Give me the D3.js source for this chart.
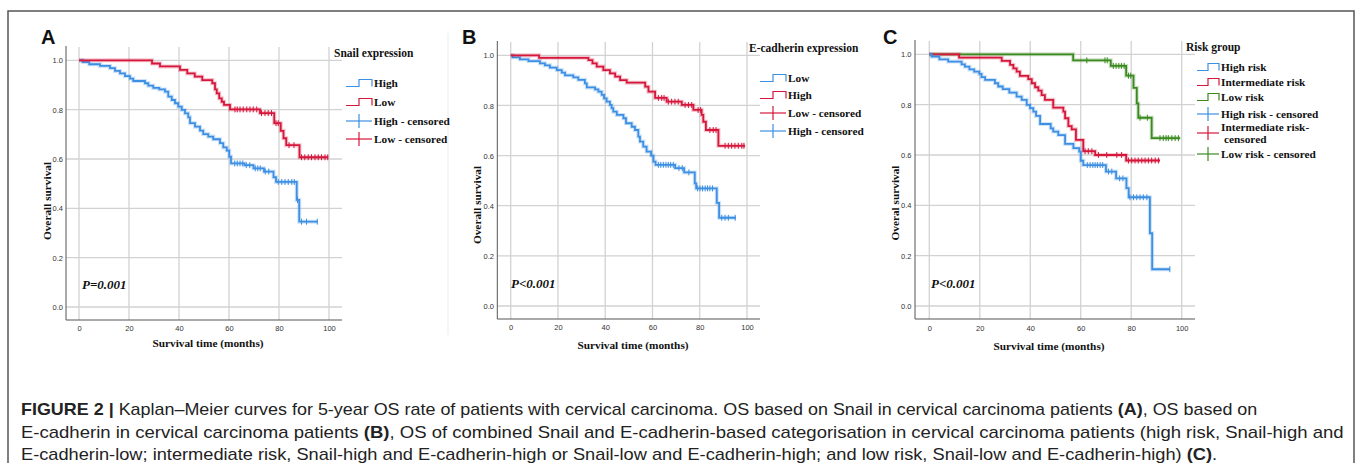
<!DOCTYPE html>
<html><head><meta charset="utf-8">
<script src="https://cdn.jsdelivr.net/npm/d3@7"></script>
<style>
html,body{margin:0;padding:0;background:#fff;}
svg{display:block;}
</style></head>
<body>
<svg id="chart" width="1358" height="463"></svg>
<script>
// ---------- DATA ----------
const xTicks = [0, 20, 40, 60, 80, 100];
const yTicks = [0, 0.2, 0.4, 0.6, 0.8, 1.0];

// Panel A : Snail expression
const aHighEvents = [[0,1],[1.5,0.993],[4.1,0.984],[8.4,0.977],[12.4,0.968],[14.4,0.957],[16.4,0.947],[18.4,0.936],[20.4,0.926],[21.7,0.916],[26.4,0.907],[27.7,0.897],[29.7,0.888],[32.1,0.882],[34.4,0.873],[35.7,0.853],[37.1,0.839],[38.4,0.826],[39.7,0.812],[41.1,0.799],[42.4,0.785],[43.7,0.769],[44.4,0.745],[46.4,0.731],[48.4,0.715],[49.7,0.701],[51.7,0.691],[53.7,0.680],[56.4,0.664],[57.7,0.647],[59.1,0.634],[60.1,0.609],[60.8,0.582],[66.2,0.575],[69.8,0.562],[74,0.549],[77.8,0.526],[78.8,0.507],[87.1,0.434],[88.1,0.346]];
const aHighEnd = 95.5;
const aHighCensor = [62.3,63.3,64.4,65.5,66.9,68.3,70.5,71.5,72.5,74.5,75.9,79.7,81.1,82.4,83.7,85.1,86.1,87.4,89,91,95.3];
const aLowEvents = [[0,1],[29.2,0.987],[32.4,0.975],[40.4,0.961],[43.3,0.947],[46.3,0.934],[49.3,0.92],[53.3,0.907],[54.4,0.882],[55.1,0.866],[56.1,0.846],[57.1,0.832],[58,0.819],[60.4,0.801],[72.4,0.786],[78.1,0.745],[80.7,0.714],[81.8,0.684],[82.9,0.656],[88.2,0.607]];
const aLowEnd = 99.7;
const aLowCensor = [62.4,63.3,64.4,65.7,67.1,68.4,69.7,71.1,73,74.4,75.7,77,78.8,79.7,84,86,89,90.3,91.7,93,94.4,95.7,97,98.4,99.5];

// Panel B : E-cadherin expression
const bLowEvents = [[0,1],[0.8,0.992],[3.9,0.984],[7.5,0.977],[12.4,0.968],[14.5,0.96],[16.6,0.951],[19.5,0.941],[21.6,0.931],[23,0.92],[26.5,0.912],[28.6,0.902],[31.4,0.888],[32.2,0.872],[35.7,0.864],[37.1,0.855],[38.5,0.842],[39.5,0.828],[40.6,0.815],[42,0.802],[42.7,0.789],[43.4,0.775],[44.9,0.762],[47.7,0.749],[48.8,0.729],[51.2,0.715],[52.6,0.702],[54,0.676],[54.7,0.656],[56.1,0.636],[57.5,0.616],[59.4,0.6],[60.4,0.576],[61.3,0.563],[69.6,0.55],[73.4,0.533],[77.9,0.489],[78.5,0.469],[87.2,0.411],[88.2,0.352]];
const bLowEnd = 95.3;
const bLowCensor = [62.5,63.5,64.6,65.7,66.7,67.7,68.8,71.2,72.6,75.4,79.1,80.1,81.2,82.3,83.3,84.3,85.4,89.3,90.7,92.1,95];
const bHighEvents = [[0,1],[12,0.99],[32.9,0.981],[34.6,0.968],[36.4,0.955],[39.2,0.941],[42,0.928],[44.2,0.915],[46.3,0.901],[49.1,0.891],[56.9,0.875],[58.3,0.855],[61.1,0.83],[66,0.815],[72.4,0.802],[77.3,0.782],[80.8,0.762],[81.5,0.735],[82.6,0.702],[87.9,0.639]];
const bHighEnd = 99.2;
const bHighCensor = [62.5,63.9,64.9,66.7,68.1,69.5,70.9,73.8,75.2,76.6,79.3,80.4,84.3,85.7,86.9,90.7,92.1,93.5,94.9,96.3,97.8,98.7];

// Panel C : Risk group
const cHighEvents = [[0,1],[0.9,0.991],[4,0.98],[7.5,0.971],[12.8,0.96],[14.1,0.951],[15.9,0.94],[17.8,0.931],[19.8,0.922],[20.7,0.909],[22.1,0.898],[26,0.885],[27.3,0.872],[29.1,0.862],[31.7,0.848],[34.6,0.832],[36.6,0.819],[38.6,0.799],[39.9,0.786],[41.2,0.772],[42.3,0.755],[43.9,0.723],[48.1,0.706],[49.1,0.693],[51.1,0.679],[53.8,0.644],[57.1,0.627],[59.4,0.613],[60,0.577],[61,0.56],[70,0.534],[74,0.507],[78.1,0.468],[79,0.432],[87.4,0.289],[88.3,0.146]];
const cHighEnd = 95.4;
const cHighCensor = [62.6,63.7,64.8,65.7,66.6,67.7,68.7,71,72.3,75.4,76.7,79.5,80.9,82.2,83.5,84.8,86.2,95.3];
const cIntEvents = [[0,1],[11.8,0.987],[28.7,0.974],[32,0.958],[33.3,0.944],[34.6,0.931],[35.9,0.914],[39.2,0.901],[40.6,0.885],[41.9,0.869],[43.2,0.856],[44.5,0.838],[45.8,0.819],[49.1,0.788],[53.1,0.772],[53.8,0.746],[55.1,0.715],[56.4,0.702],[58.1,0.66],[61,0.615],[65.7,0.6],[78,0.578]];
const cIntEnd = 91.4;
const cIntCensor = [61.7,63,64.4,67,70.3,74.3,76.2,78.9,80.2,81.5,82.8,84.2,85.5,86.8,88.1,89.5,90.8];
const cLowEvents = [[0,1],[57,0.976],[71.9,0.954],[78,0.915],[80.9,0.867],[82.2,0.805],[82.8,0.748],[88.1,0.667]];
const cLowEnd = 99.4;
const cLowCensor = [62.4,69.6,70.5,72.9,74,75.1,76.1,77.2,78.9,79.8,83.5,86.4,91.4,92.7,93.8,94.7,96.1,97.4,98.7];

const panelLetters = ["A", "B", "C"];
const legendTitles = ["Snail expression", "E-cadherin expression", "Risk group"];
const legendA = ["High", "Low", "High - censored", "Low - censored"];
const legendB = ["Low", "High", "Low - censored", "High - censored"];
const legendC = ["High risk", "Intermediate risk", "Low risk", "High risk - censored", "Intermediate risk-|censored", "Low risk - censored"];
const yTitles = ["Overall survival", "Overall survival", "Overal survival"];
const xTitle = "Survival time (months)";
const pTexts = ["P=0.001", "P<0.001", "P<0.001"];

const captionLines = [
  [["FIGURE 2 | ", true], ["Kaplan–Meier curves for 5-year OS rate of patients with cervical carcinoma. OS based on Snail in cervical carcinoma patients ", false], ["(A)", true], [", OS based on", false]],
  [["E-cadherin in cervical carcinoma patients ", false], ["(B)", true], [", OS of combined Snail and E-cadherin-based categorisation in cervical carcinoma patients (high risk, Snail-high and", false]],
  [["E-cadherin-low; intermediate risk, Snail-high and E-cadherin-high or Snail-low and E-cadherin-high; and low risk, Snail-low and E-cadherin-high) ", false], ["(C)", true], [".", false]]
];

// ---------- STYLE ----------
const BLUE = "#3d8fe3", RED = "#d6173c", GREEN = "#3a8a1f";
const SERIF = "'Liberation Serif','Times New Roman',serif";
const SANS = "'Liberation Sans',Arial,sans-serif";

const svg = d3.select("#chart");

svg.append("rect").attr("x", 8).attr("y", 11).attr("width", 1346).attr("height", 470)
  .attr("fill", "none").attr("stroke", "#555").attr("stroke-width", 1.5);
svg.append("line").attr("x1", 448).attr("x2", 448).attr("y1", 33).attr("y2", 335)
  .attr("stroke", "#ececec").attr("stroke-width", 1);

const panels = [
  { letter: 0, lx: 41, xr: [79, 329], yr: [307, 60.3], left: 66, bottom: 320, right: 342, top: 47,
    yTitleX: 51, yTitleY: 201, xTitleX: 208, xTitleY: 347, pX: 82, pY: 289, yLabX: 63, xLabY: 331,
    legX: 346, legW: 26, legTitleX: 334, legTitleY: 57, legRows: [83, 102, 121, 139],
    legend: legendA, legendKinds: ["step","step","cens","cens"], legendColors: [BLUE, RED, BLUE, RED],
    series: [
      { ev: aHighEvents, end: aHighEnd, cens: aHighCensor, color: BLUE },
      { ev: aLowEvents, end: aLowEnd, cens: aLowCensor, color: RED } ] },
  { letter: 1, lx: 462, xr: [510.7, 747], yr: [306, 55.3], left: 497.3, bottom: 319, right: 760, top: 42,
    yTitleX: 480.5, yTitleY: 205, xTitleX: 633, xTitleY: 349, pX: 511, pY: 288, yLabX: 494, xLabY: 330,
    legX: 760, legW: 26, legTitleX: 749, legTitleY: 52, legRows: [78, 95, 113, 131],
    legend: legendB, legendKinds: ["step","step","cens","cens"], legendColors: [BLUE, RED, RED, BLUE],
    series: [
      { ev: bLowEvents, end: bLowEnd, cens: bLowCensor, color: BLUE },
      { ev: bHighEvents, end: bHighEnd, cens: bHighCensor, color: RED } ] },
  { letter: 2, lx: 883, xr: [929.3, 1181.7], yr: [306, 54.3], left: 915, bottom: 319, right: 1195, top: 41,
    yTitleX: 898.5, yTitleY: 203, xTitleX: 1049, xTitleY: 350, pX: 931, pY: 288, yLabX: 911.5, xLabY: 331,
    legX: 1197, legW: 22, legTitleX: 1186, legTitleY: 51, legRows: [67, 82, 97, 114, 133, 154],
    legend: legendC, legendKinds: ["step","step","step","cens","cens","cens"], legendColors: [BLUE, RED, GREEN, BLUE, RED, GREEN],
    series: [
      { ev: cLowEvents, end: cLowEnd, cens: cLowCensor, color: GREEN },
      { ev: cIntEvents, end: cIntEnd, cens: cIntCensor, color: RED },
      { ev: cHighEvents, end: cHighEnd, cens: cHighCensor, color: BLUE } ] }
];

function stepValue(ev, t) {
  let s = ev[0][1];
  for (const e of ev) { if (e[0] <= t) s = e[1]; else break; }
  return s;
}

panels.forEach((p, pi) => {
  const x = d3.scaleLinear().domain([0, 100]).range(p.xr);
  const y = d3.scaleLinear().domain([0, 1]).range(p.yr);
  const g = svg.append("g");

  g.append("text").attr("x", p.lx).attr("y", 43.5).text(panelLetters[p.letter])
    .attr("font-family", SANS).attr("font-weight", "bold").attr("font-size", 20).attr("fill", "#111");

  g.append("g").selectAll("line").data(xTicks).join("line")
    .attr("x1", d => x(d)).attr("x2", d => x(d)).attr("y1", p.top).attr("y2", p.bottom)
    .attr("stroke", "#d2d2d2").attr("stroke-width", 1.3);
  g.append("g").selectAll("line").data(yTicks).join("line")
    .attr("x1", p.left).attr("x2", p.right).attr("y1", d => y(d)).attr("y2", d => y(d))
    .attr("stroke", "#d2d2d2").attr("stroke-width", 1.3);

  const xAxis = d3.axisBottom(x).tickValues(xTicks).tickSize(0).tickPadding(0).tickFormat(d3.format("d"));
  const xa = g.append("g").attr("transform", `translate(0,${p.bottom})`).call(xAxis);
  xa.select(".domain").remove();
  xa.selectAll("text").attr("y", p.xLabY - p.bottom).attr("dy", 0)
    .attr("font-family", SANS).attr("font-size", 7.5).attr("fill", "#333");
  const yAxis = d3.axisLeft(y).tickValues(yTicks).tickSize(0).tickPadding(0).tickFormat(d3.format(".1f"));
  const ya = g.append("g").attr("transform", `translate(${p.yLabX},0)`).call(yAxis);
  ya.select(".domain").remove();
  ya.selectAll("text").attr("x", 0).attr("dy", "0.35em")
    .attr("font-family", SANS).attr("font-size", 7.5).attr("fill", "#333");
  g.append("line").attr("x1", p.left).attr("x2", p.left).attr("y1", p.top - 1).attr("y2", p.bottom)
    .attr("stroke", "#555").attr("stroke-width", 1);
  g.append("line").attr("x1", p.left).attr("x2", p.right).attr("y1", p.bottom).attr("y2", p.bottom)
    .attr("stroke", "#555").attr("stroke-width", 1);

  const line = d3.line().x(d => x(d[0])).y(d => y(d[1])).curve(d3.curveStepAfter);
  p.series.forEach(s => {
    const pts = s.ev.concat([[s.end, s.ev[s.ev.length - 1][1]]]);
    g.append("path").attr("d", line(pts)).attr("fill", "none")
      .attr("stroke", s.color).attr("stroke-opacity", 0.25).attr("stroke-width", 4);
    g.append("path").attr("d", line(pts)).attr("fill", "none")
      .attr("stroke", s.color).attr("stroke-width", 1.8);
    g.append("g").selectAll("line").data(s.cens).join("line")
      .attr("x1", d => x(d)).attr("x2", d => x(d))
      .attr("y1", d => y(stepValue(s.ev, d)) - 3).attr("y2", d => y(stepValue(s.ev, d)) + 3)
      .attr("stroke", s.color).attr("stroke-width", 1);
  });

  g.append("text").attr("x", p.pX).attr("y", p.pY).text(pTexts[pi])
    .attr("font-family", SERIF).attr("font-weight", "bold").attr("font-style", "italic")
    .attr("font-size", 13).attr("fill", "#111");

  g.append("text").attr("x", p.xTitleX).attr("y", p.xTitleY).attr("text-anchor", "middle").text(xTitle)
    .attr("font-family", SERIF).attr("font-weight", "bold").attr("font-size", 11.3).attr("fill", "#111");
  g.append("text").attr("transform", `translate(${p.yTitleX},${p.yTitleY}) rotate(-90)`)
    .attr("text-anchor", "middle").text(yTitles[pi])
    .attr("font-family", SERIF).attr("font-weight", "bold").attr("font-size", 11.3).attr("fill", "#111");

  g.append("text").attr("x", p.legTitleX).attr("y", p.legTitleY).text(legendTitles[pi])
    .attr("font-family", SERIF).attr("font-weight", "bold").attr("font-size", 11.5).attr("fill", "#111");
  p.legend.forEach((lab, i) => {
    const cy = p.legRows[i], c = p.legendColors[i], x0 = p.legX, w = p.legW;
    if (p.legendKinds[i] === "step") {
      g.append("path").attr("d", `M${x0},${cy + 3.5}H${x0 + w * 0.5}V${cy - 3.5}H${x0 + w}V${cy + 3.5}`)
        .attr("fill", "none").attr("stroke", c).attr("stroke-width", 1.2);
    } else {
      g.append("line").attr("x1", x0).attr("x2", x0 + w).attr("y1", cy).attr("y2", cy)
        .attr("stroke", c).attr("stroke-width", 1.2);
      g.append("line").attr("x1", x0 + w * 0.5).attr("x2", x0 + w * 0.5).attr("y1", cy - 7).attr("y2", cy + 7)
        .attr("stroke", c).attr("stroke-width", 1.2);
    }
    const parts = lab.split("|");
    parts.forEach((pt, k) => {
      g.append("text").attr("x", x0 + w + 2 + (k > 0 ? 3 : 0))
        .attr("y", cy + 3.9 + (parts.length > 1 ? (k === 0 ? -5.5 : 6.5) : 0)).text(pt)
        .attr("font-family", SERIF).attr("font-weight", "bold").attr("font-size", 11.3).attr("fill", "#111");
    });
  });
});

// caption: the two full (justified) lines are fitted to their right ends in the
// original; the last line uses the mean of their horizontal scales.
const capY = [415, 438, 460];
const capW = [1237, 1324];
const capNodes = captionLines.map(ln => {
  const t = svg.append("text").attr("x", 0).attr("y", 0)
    .attr("font-family", "'Liberation Sans',Arial,sans-serif")
    .attr("font-size", 16).attr("fill", "#222");
  ln.forEach(([s, b]) => t.append("tspan").text(s).attr("font-weight", b ? "bold" : "normal"));
  return t;
});
const scales = capW.map((w, i) => w / capNodes[i].node().getComputedTextLength());
scales.push((scales[0] + scales[1]) / 2);
capNodes.forEach((t, i) => t.attr("transform", `translate(21,${capY[i]}) scale(${scales[i]},1)`));
</script>
</body></html>
